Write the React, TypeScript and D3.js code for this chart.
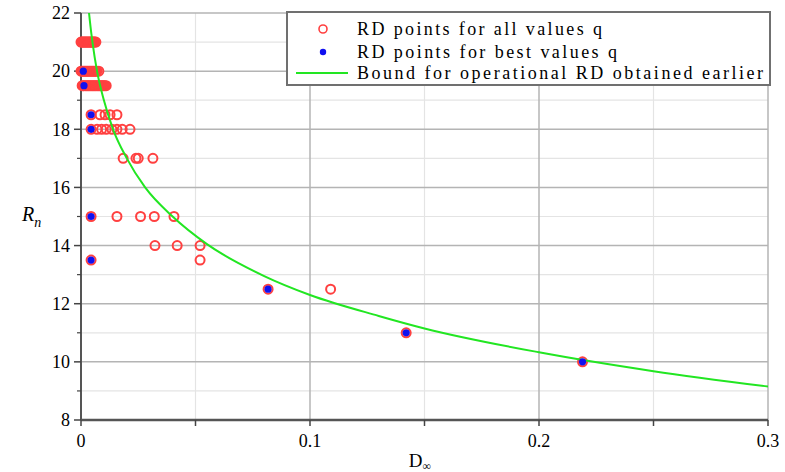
import * as d3 from 'd3';

// RD points for all values q: [D, R]
const allD = [
  0, 0.0004, 0.0008, 0.0012, 0.0016, 0.002, 0.0024, 0.0028, 0.0032, 0.0036, 0.004, 0.0044, 0.0048, 0.0052, 0.0056, 0.006, 0.0065,
  0, 0.0005, 0.001, 0.0015, 0.002, 0.0025, 0.003, 0.0035, 0.004, 0.0045, 0.005, 0.0055, 0.006, 0.0065, 0.007, 0.0078,
  0.0005, 0.001, 0.0013, 0.002, 0.0025, 0.003, 0.0035, 0.004, 0.0045, 0.005, 0.0055, 0.006, 0.0065, 0.007, 0.0075, 0.008, 0.0085, 0.009, 0.0095, 0.01, 0.0105, 0.011,
  0.0044, 0.0083, 0.0105, 0.0127, 0.0157,
  0.0044, 0.007, 0.009, 0.011, 0.0135, 0.0157, 0.018, 0.0214,
  0.0184, 0.024, 0.025, 0.0314,
  0.0044, 0.0157, 0.026, 0.032, 0.0406,
  0.0323, 0.042, 0.052,
  0.0044, 0.052,
  0.0817, 0.109,
  0.142,
  0.219,
];
const allR = [
  21, 21, 21, 21, 21, 21, 21, 21, 21, 21, 21, 21, 21, 21, 21, 21, 21,
  20, 20, 20, 20, 20, 20, 20, 20, 20, 20, 20, 20, 20, 20, 20, 20,
  19.5, 19.5, 19.5, 19.5, 19.5, 19.5, 19.5, 19.5, 19.5, 19.5, 19.5, 19.5, 19.5, 19.5, 19.5, 19.5, 19.5, 19.5, 19.5, 19.5, 19.5, 19.5,
  18.5, 18.5, 18.5, 18.5, 18.5,
  18, 18, 18, 18, 18, 18, 18, 18,
  17, 17, 17, 17,
  15, 15, 15, 15, 15,
  14, 14, 14,
  13.5, 13.5,
  12.5, 12.5,
  11,
  10,
];

// RD points for best values q
const bestD = [0.001, 0.0013, 0.0044, 0.0044, 0.0044, 0.0044, 0.0817, 0.142, 0.219];
const bestR = [20, 19.5, 18.5, 18, 15, 13.5, 12.5, 11, 10];

// bound for operational RD
const boundD = [0.0035, 0.0045, 0.005, 0.007, 0.01, 0.014, 0.02, 0.028, 0.04, 0.055, 0.08, 0.1, 0.13, 0.15, 0.2, 0.25, 0.3];
const boundR = [22, 21.3, 21, 20, 19, 18, 17, 16, 15, 14.05, 12.95, 12.3, 11.58, 11.15, 10.33, 9.68, 9.15];

const xTicks = [0, 0.1, 0.2, 0.3];
const yTicks = [8, 10, 12, 14, 16, 18, 20, 22];

const legendLabels = [
  'RD points for all values q',
  'RD points for best values q',
  'Bound for operational RD obtained earlier',
];

export default function App() {
  const width = 785;
  const height = 472;
  const margin = { top: 13, right: 17, bottom: 52, left: 81 };

  const x = d3.scaleLinear().domain([0, 0.3]).range([margin.left, width - margin.right]);
  const y = d3.scaleLinear().domain([8, 22]).range([height - margin.bottom, margin.top]);

  const serif = { fontFamily: "'Liberation Serif', 'DejaVu Serif', serif" };
  const red = '#ff4040';
  const blue = '#1010f0';
  const green = '#22e622';

  const minorX = d3.range(0.05, 0.3, 0.1);
  const minorY = d3.range(9, 22, 2);

  const line = d3
    .line<number>()
    .x((i) => x(boundD[i]))
    .y((i) => y(boundR[i]))
    .curve(d3.curveMonotoneX);

  return (
    <svg
      width={width}
      height={height}
      style={{ position: 'absolute', left: 0, top: 0, background: '#fff' }}
    >
      <defs>
        <clipPath id="plot">
          <rect x={margin.left - 6} y={margin.top} width={width - margin.left - margin.right + 6} height={height - margin.top - margin.bottom} />
        </clipPath>
      </defs>

      {/* minor grid */}
      {minorX.map((d) => (
        <line key={'mx' + d} x1={x(d)} x2={x(d)} y1={y(8)} y2={y(22)} stroke="#e4e4e4" strokeWidth={1.2} />
      ))}
      {minorY.map((d) => (
        <line key={'my' + d} x1={x(0)} x2={x(0.3)} y1={y(d)} y2={y(d)} stroke="#e4e4e4" strokeWidth={1.2} />
      ))}
      {/* major grid */}
      {xTicks.slice(1).map((d) => (
        <line key={'gx' + d} x1={x(d)} x2={x(d)} y1={y(8)} y2={y(22)} stroke="#b4b4b4" strokeWidth={1.5} />
      ))}
      {yTicks.slice(1).map((d) => (
        <line key={'gy' + d} x1={x(0)} x2={x(0.3)} y1={y(d)} y2={y(d)} stroke="#b4b4b4" strokeWidth={1.5} />
      ))}

      {/* axes */}
      <line x1={x(0)} x2={x(0.3)} y1={y(8)} y2={y(8)} stroke="#555" strokeWidth={2.5} />
      <line x1={x(0)} x2={x(0)} y1={y(8)} y2={y(22)} stroke="#555" strokeWidth={2} />

      {/* y ticks */}
      {yTicks.map((d) => (
        <g key={'yt' + d}>
          <line x1={x(0) - 7} x2={x(0)} y1={y(d)} y2={y(d)} stroke="#444" strokeWidth={1.5} />
          <text x={x(0) - 11} y={y(d)} dy="0.35em" textAnchor="end" fontSize={18} style={serif}>
            {d}
          </text>
        </g>
      ))}
      {minorY.map((d) => (
        <line key={'ymt' + d} x1={x(0) - 4} x2={x(0)} y1={y(d)} y2={y(d)} stroke="#444" strokeWidth={1.2} />
      ))}

      {/* x ticks */}
      {d3.range(0, 0.31, 0.05).map((d) => (
        <line key={'xt' + d} x1={x(d)} x2={x(d)} y1={y(8)} y2={y(8) + 6} stroke="#444" strokeWidth={1.5} />
      ))}
      {xTicks.map((d) => (
        <text key={'xl' + d} x={x(d)} y={y(8) + 27} textAnchor="middle" fontSize={18} style={serif}>
          {d}
        </text>
      ))}

      {/* axis titles */}
      <text x={420} y={467} textAnchor="middle" fontSize={19} style={serif}>
        D<tspan fontSize={12} dy={3}>∞</tspan>
      </text>
      <text x={22} y={221} fontSize={20} fontStyle="italic" style={serif}>
        R<tspan fontSize={14} dy={6}>n</tspan>
      </text>

      <g clipPath="url(#plot)">
        {/* all values */}
        {allD.map((d, i) => (
          <circle key={'a' + i} cx={x(d)} cy={y(allR[i])} r={4.5} fill="none" stroke={red} strokeWidth={2} />
        ))}
        {/* bound curve */}
        <path d={line(boundD.map((_, i) => i)) ?? ''} fill="none" stroke={green} strokeWidth={2} />
      </g>
      {/* best values */}
      {bestD.map((d, i) => (
        <circle key={'b' + i} cx={x(d)} cy={y(bestR[i])} r={3.6} fill={blue} />
      ))}

      {/* legend */}
      <rect x={287} y={12} width={483} height={73} fill="#fff" stroke="#707070" strokeWidth={2} />
      <circle cx={323} cy={29} r={4} fill="none" stroke={red} strokeWidth={1.6} />
      <circle cx={323} cy={52} r={3.2} fill={blue} />
      <line x1={296} x2={348} y1={73} y2={73} stroke={green} strokeWidth={2} />
      {legendLabels.map((t, i) => (
        <text
          key={t}
          x={357}
          y={[35, 58, 79][i]}
          fontSize={18}
          textLength={[245, 260, 406][i]}
          lengthAdjust="spacing"
          style={serif}
        >
          {t}
        </text>
      ))}
    </svg>
  );
}
